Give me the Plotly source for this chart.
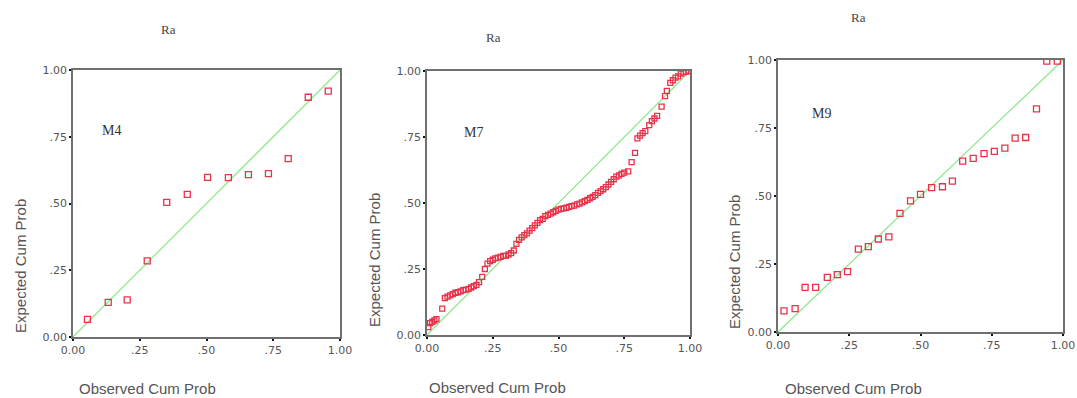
import plotly.graph_objects as go

W, H = 1077, 398

tick_vals = [0, 0.25, 0.5, 0.75, 1.0]
tick_text = ["0.00", ".25", ".50", ".75", "1.00"]

# M4
m4_obs = [0.054, 0.132, 0.203, 0.278, 0.351, 0.428, 0.504, 0.582, 0.657, 0.732, 0.806, 0.881, 0.956]
m4_exp = [0.066, 0.130, 0.139, 0.285, 0.504, 0.534, 0.598, 0.597, 0.608, 0.612, 0.668, 0.898, 0.921]

# M7
m7_obs = [0.005, 0.012, 0.020, 0.028, 0.036, 0.058, 0.068, 0.078, 0.088, 0.098, 0.108, 0.118, 0.128,
          0.138, 0.148, 0.158, 0.168, 0.178, 0.188, 0.198, 0.210, 0.220, 0.230, 0.240, 0.250, 0.260,
          0.270, 0.280, 0.290, 0.300, 0.310, 0.320, 0.330, 0.340, 0.350, 0.360, 0.370, 0.380, 0.390,
          0.400, 0.410, 0.420, 0.430, 0.440, 0.450, 0.460, 0.470, 0.480, 0.490, 0.500, 0.510, 0.520,
          0.530, 0.540, 0.550, 0.560, 0.570, 0.580, 0.590, 0.600, 0.610, 0.620, 0.630, 0.640, 0.650,
          0.660, 0.670, 0.680, 0.690, 0.700, 0.710, 0.720, 0.730, 0.740, 0.750, 0.765, 0.778, 0.791,
          0.800, 0.810, 0.820, 0.830, 0.845, 0.855, 0.865, 0.875, 0.892, 0.905, 0.912, 0.925, 0.935,
          0.945, 0.955, 0.965, 0.975, 0.985, 0.995]
m7_exp = [0.030, 0.045, 0.050, 0.055, 0.060, 0.100, 0.140, 0.145, 0.150, 0.155, 0.160, 0.162, 0.165,
          0.170, 0.172, 0.175, 0.180, 0.185, 0.190, 0.200, 0.220, 0.250, 0.270, 0.280, 0.285, 0.290,
          0.293, 0.296, 0.300, 0.300, 0.305, 0.310, 0.320, 0.345, 0.360, 0.370, 0.378, 0.385, 0.395,
          0.405, 0.415, 0.425, 0.435, 0.440, 0.450, 0.455, 0.460, 0.465, 0.470, 0.475, 0.478, 0.480,
          0.482, 0.485, 0.488, 0.490, 0.495, 0.498, 0.502, 0.507, 0.512, 0.518, 0.523, 0.530, 0.538,
          0.545, 0.552, 0.560, 0.570, 0.580, 0.590, 0.600, 0.605, 0.610, 0.615, 0.620, 0.655, 0.690,
          0.745, 0.755, 0.765, 0.772, 0.795, 0.810, 0.820, 0.830, 0.865, 0.905, 0.925, 0.955, 0.965,
          0.975, 0.980, 0.990, 0.995, 0.998, 1.000]

# M9
m9_obs = [0.021, 0.060, 0.095, 0.132, 0.173, 0.208, 0.244, 0.282, 0.317, 0.352, 0.389, 0.428, 0.465,
          0.500, 0.539, 0.577, 0.612, 0.648, 0.685, 0.723, 0.759, 0.796, 0.832, 0.869, 0.907, 0.943, 0.980]
m9_exp = [0.078, 0.086, 0.164, 0.164, 0.201, 0.211, 0.222, 0.305, 0.314, 0.342, 0.350, 0.436, 0.482,
          0.506, 0.531, 0.534, 0.555, 0.628, 0.638, 0.656, 0.664, 0.676, 0.713, 0.715, 0.820, 0.996, 0.996]

panel_labels = ["M4", "M7", "M9"]
title_text = "Ra"
x_title = "Observed Cum Prob"
y_title = "Expected Cum Prob"

# pixel layout: (x0, x1, ytop, ybottom)
boxes = [(73, 340, 70, 337), (427, 690, 71, 335), (778, 1063, 60, 332)]
title_pos = [(168, 29), (493, 37), (858, 17)]
label_pos = [(111, 131), (473, 132), (821, 113)]
xtitle_pos = [(147, 388), (497, 387), (853, 388)]
ytitle_pos = [(20, 266), (374, 260), (734, 262)]
marker_sizes = [6, 5, 6]

series = [(m4_obs, m4_exp), (m7_obs, m7_exp), (m9_obs, m9_exp)]

fig = go.Figure()
annotations = []

for i, ((xs, ys), (x0, x1, yt, yb)) in enumerate(zip(series, boxes)):
    n = "" if i == 0 else str(i + 1)
    xa, ya = "x" + n, "y" + n
    fig.add_trace(go.Scatter(x=[0, 1], y=[0, 1], mode="lines", xaxis=xa, yaxis=ya,
                             line=dict(color="#8fe88f", width=1.3), hoverinfo="skip",
                             showlegend=False))
    fig.add_trace(go.Scatter(x=xs, y=ys, mode="markers", xaxis=xa, yaxis=ya,
                             marker=dict(symbol="square-open", size=marker_sizes[i],
                                         color="#e8334a", line=dict(width=1.3, color="#e8334a")),
                             showlegend=False))
    axcommon = dict(range=[0, 1], tickvals=tick_vals, ticktext=tick_text,
                    showgrid=False, zeroline=False, showline=True, mirror=True,
                    linecolor="#707070", linewidth=1.5, ticks="outside", ticklen=2,
                    tickwidth=2, tickcolor="#111", automargin=False,
                    tickfont=dict(family="DejaVu Sans", size=11, color="#555"))
    fig.layout["xaxis" + n] = go.layout.XAxis(domain=[x0 / W, x1 / W], anchor=ya, **axcommon)
    fig.layout["yaxis" + n] = go.layout.YAxis(domain=[1 - yb / H, 1 - yt / H], anchor=xa, **axcommon)

    tx, ty = title_pos[i]
    annotations.append(dict(text=title_text, x=tx / W, y=1 - ty / H, xref="paper", yref="paper",
                            showarrow=False, xanchor="center", yanchor="middle",
                            font=dict(family="Liberation Serif, Times New Roman", size=13, color="#444")))
    lx, ly = label_pos[i]
    annotations.append(dict(text=panel_labels[i], x=lx / W, y=1 - ly / H, xref="paper", yref="paper",
                            showarrow=False, xanchor="center", yanchor="middle",
                            font=dict(family="Liberation Serif, Times New Roman", size=14, color="#333")))
    ox, oy = xtitle_pos[i]
    annotations.append(dict(text=x_title, x=ox / W, y=1 - oy / H, xref="paper", yref="paper",
                            showarrow=False, xanchor="center", yanchor="middle",
                            font=dict(family="Liberation Sans, Arial", size=15, color="#555")))
    ex, ey = ytitle_pos[i]
    annotations.append(dict(text=y_title, x=ex / W, y=1 - ey / H, xref="paper", yref="paper",
                            showarrow=False, xanchor="center", yanchor="middle", textangle=-90,
                            font=dict(family="Liberation Sans, Arial", size=15, color="#555")))

fig.update_layout(width=W, height=H, margin=dict(l=0, r=0, t=0, b=0),
                  paper_bgcolor="white", plot_bgcolor="white", annotations=annotations,
                  showlegend=False)

fig.write_html("out.html", config={"displayModeBar": False},
               post_script="document.body.style.margin='0';document.body.style.padding='0';"
                           "document.body.style.overflow='hidden';")
